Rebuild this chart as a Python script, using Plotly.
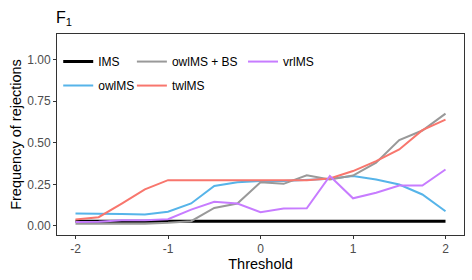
import plotly.graph_objects as go

threshold = [-2, -1.75, -1.5, -1.25, -1, -0.75, -0.5, -0.25, 0, 0.25, 0.5, 0.75, 1, 1.25, 1.5, 1.75, 2]

ims = [0.028] * 17
owlms = [0.074, 0.074, 0.072, 0.068, 0.085, 0.135, 0.24, 0.262, 0.27, 0.27, 0.275, 0.283, 0.30, 0.279, 0.249, 0.189, 0.088]
owlms_bs = [0.012, 0.012, 0.012, 0.012, 0.018, 0.028, 0.108, 0.134, 0.263, 0.253, 0.305, 0.279, 0.303, 0.38, 0.516, 0.574, 0.676]
twlms = [0.038, 0.052, 0.134, 0.22, 0.275, 0.275, 0.275, 0.278, 0.278, 0.278, 0.275, 0.285, 0.33, 0.39, 0.46, 0.576, 0.64]
vrlms = [0.024, 0.025, 0.034, 0.034, 0.04, 0.098, 0.145, 0.134, 0.082, 0.104, 0.106, 0.30, 0.166, 0.199, 0.243, 0.243, 0.339]

series = [
    ("IMS", ims, "#000000", 3, "legend"),
    ("owlMS", owlms, "#56B4E9", 2, "legend"),
    ("owlMS + BS", owlms_bs, "#999999", 2, "legend2"),
    ("twlMS", twlms, "#F8766D", 2, "legend2"),
    ("vrlMS", vrlms, "#C77CFF", 2, "legend3"),
]

fig = go.Figure()
for name, vals, color, w, lg in series:
    fig.add_trace(go.Scatter(
        x=threshold, y=vals, mode="lines", name=name,
        line=dict(color=color, width=w), legend=lg, legendgroup=name,
    ))

font = "Liberation Sans, Arial, sans-serif"
legend_common = dict(
    orientation="v", bgcolor="rgba(0,0,0,0)", borderwidth=0,
    font=dict(family=font, size=12, color="#000000"),
    tracegroupgap=5, yanchor="top", xanchor="left",
)

fig.update_layout(
    width=472, height=280,
    margin=dict(l=57, r=8, t=34, b=45, autoexpand=False),
    paper_bgcolor="white", plot_bgcolor="white",
    font=dict(family=font, color="#000000"),
    title=dict(text="F<sub>1</sub>", x=56 / 472, xanchor="left", xref="container",
               y=1 - 17 / 280, yanchor="middle", yref="container",
               font=dict(size=16, family=font, color="#000000")),
    showlegend=True,
    legend=dict(x=0.003, y=0.935, **legend_common),
    legend2=dict(x=0.184, y=0.935, **legend_common),
    legend3=dict(x=0.457, y=0.935, **legend_common),
    xaxis=dict(
        range=[-2.2, 2.2], tickvals=[-2, -1, 0, 1, 2], ticktext=["-2", "-1", "0", "1", "2"],
        showgrid=False, zeroline=False, showline=True, linecolor="#333333", linewidth=1,
        mirror=True, ticks="outside", ticklen=3, tickcolor="#333333", automargin=False,
        tickfont=dict(size=12, color="#4D4D4D", family=font),
        title=dict(text="Threshold", font=dict(size=14.5, color="#000000", family=font), standoff=2),
    ),
    yaxis=dict(
        range=[-0.055, 1.155], tickvals=[0, 0.25, 0.5, 0.75, 1.0],
        ticktext=["0.00", "0.25", "0.50", "0.75", "1.00"],
        showgrid=False, zeroline=False, showline=True, linecolor="#333333", linewidth=1,
        mirror=True, ticks="outside", ticklen=3, tickcolor="#333333", automargin=False,
        tickfont=dict(size=12, color="#4D4D4D", family=font),
        title=dict(text="Frequency of rejections", font=dict(size=14.5, color="#000000", family=font), standoff=2),
    ),
)

fig.write_html("out.html", config={"displayModeBar": False},
               post_script="document.body.style.margin='0';")
